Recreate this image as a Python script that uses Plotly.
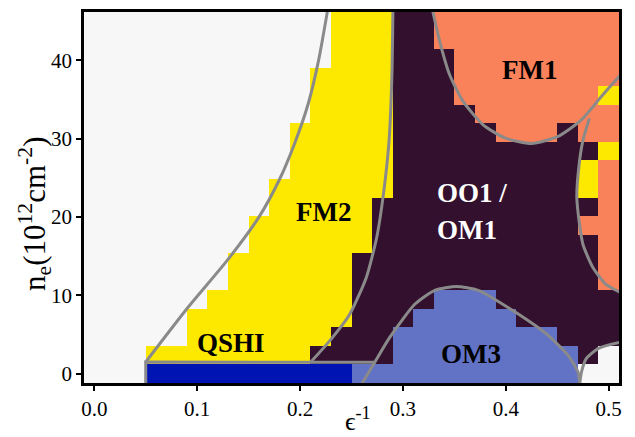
import numpy as np
import plotly.graph_objects as go

# grid axes: inverse dielectric constant and electron density (10^12 cm^-2)
eps_inv = [round(0.02 * k, 2) for k in range(26)]
n_e = list(np.linspace(0.0, 45.0, 20))

# phase codes per row (bottom row first), one character per eps_inv column
# W normal, Q QSHI, Y FM2, P OO1/OM1, S FM1, B OM3
phase_rows = [
    "WWWQQQQQQQQQQBBBBBBBBBBBWW",
    "WWWYYYYYYYYPPPPBBBBBBBBBPW",
    "WWWWWYYYYYYYPPPBBBBBBBBPPP",
    "WWWWWYYYYYYYYPPPBBBBBPPPPP",
    "WWWWWWYYYYYYYPPPPBBBPPPPPP",
    "WWWWWWWYYYYYYPPPPPPPPPPPPS",
    "WWWWWWWYYYYYYPPPPPPPPPPPPS",
    "WWWWWWWWYYYYYYPPPPPPPPPPPS",
    "WWWWWWWWYYYYYYPPPPPPPPPPSS",
    "WWWWWWWWWYYYYYPPPPPPPPPPPS",
    "WWWWWWWWWYYYYYYPPPPPPPPPYS",
    "WWWWWWWWWWYYYYYPPPPPPPPPYS",
    "WWWWWWWWWWYYYYYPPPPPPPPPPY",
    "WWWWWWWWWWYYYYYPPPPPSSSPSS",
    "WWWWWWWWWWWYYYYPPPPSSSSSSS",
    "WWWWWWWWWWWYYYYPPPSSSSSSSY",
    "WWWWWWWWWWWYYYYPPPSSSSSSSS",
    "WWWWWWWWWWWWYYYPPPSSSSSSSS",
    "WWWWWWWWWWWWYYYPPSSSSSSSSS",
    "WWWWWWWWWWWWYYYPPSSSSSSSSS",
]
phase_codes = "WQYPSB"
phase_colors = ["#f7f7f7", "#0014b4", "#fde800", "#33102e", "#f9825a", "#6272c5"]

# phase boundaries drawn on top of the grid
fm2_left_x = [0.050, 0.090, 0.130, 0.160, 0.180, 0.195, 0.208, 0.218, 0.2265, 0.230]
fm2_left_y = [1.5, 8.3, 14.6, 20.0, 24.8, 29.5, 34.5, 40.0, 46.2, 49.0]

qshi_x = [0.050, 0.050, 0.273]
qshi_y = [-1.3, 1.5, 1.45]

fm2_right_x = [0.2104, 0.2288, 0.2483, 0.2644, 0.2745, 0.281, 0.2865, 0.2893, 0.2903]
fm2_right_y = [1.5, 4.2, 7.6, 12.3, 17.4, 22.9, 29.7, 38.2, 47.0]

om3_x = [0.2599, 0.2728, 0.2870, 0.3117, 0.331, 0.3521, 0.3731, 0.4087, 0.4411, 0.4605, 0.4702, 0.4718]
om3_y = [-1.3, 1.5, 4.6, 8.9, 10.65, 11.15, 10.65, 7.9, 4.9, 2.35, 0.2, -1.3]

fm1_x = [0.3270, 0.3356, 0.3453, 0.3583, 0.3777, 0.399, 0.425, 0.4508, 0.4735, 0.4929, 0.5107, 0.520]
fm1_y = [47.5, 42.5, 38.2, 34.8, 31.8, 30.1, 29.4, 30.3, 32.4, 35.4, 38.0, 39.3]

right_x = [0.4812, 0.4748, 0.4709, 0.469, 0.4712, 0.475, 0.4845, 0.4974, 0.5119, 0.52]
right_y = [32.6, 29.7, 26.3, 22.6, 19.5, 16.5, 13.6, 11.4, 10.35, 10.1]

corner_x = [0.4718, 0.4735, 0.478, 0.4896, 0.5107, 0.52]
corner_y = [-1.3, 0.2, 1.9, 3.2, 4.0, 4.2]

z = [[phase_codes.index(ch) for ch in row] for row in phase_rows]

n = len(phase_colors)
colorscale = []
for k, c in enumerate(phase_colors):
    colorscale.append([k / n, c])
    colorscale.append([(k + 1) / n, c])

fig = go.Figure()
fig.add_trace(go.Heatmap(
    x=eps_inv, y=n_e, z=z, zmin=-0.5, zmax=n - 0.5,
    colorscale=colorscale, showscale=False, hoverinfo="skip",
))

boundary_line = dict(color="#8a8a8a", width=3)
curves = [
    (fm2_left_x, fm2_left_y, "spline"),
    (qshi_x, qshi_y, "linear"),
    (fm2_right_x, fm2_right_y, "spline"),
    (om3_x, om3_y, "spline"),
    (fm1_x, fm1_y, "spline"),
    (right_x, right_y, "spline"),
    (corner_x, corner_y, "spline"),
]
for bx, by, shape in curves:
    line = dict(**boundary_line, shape=shape)
    if shape == "spline":
        line["smoothing"] = 0.6
    fig.add_trace(go.Scatter(x=bx, y=by, mode="lines", line=line,
                             hoverinfo="skip", showlegend=False))

serif = "Liberation Serif, DejaVu Serif, serif"
labels = [
    ("FM1", 0.423, 38.8, "black"),
    ("FM2", 0.223, 20.6, "black"),
    ("QSHI", 0.133, 3.9, "black"),
    ("OO1 /", 0.367, 23.05, "white"),
    ("OM1", 0.3626, 18.33, "white"),
    ("OM3", 0.3658, 2.56, "black"),
]
for text, lx, ly, col in labels:
    fig.add_annotation(x=lx, y=ly, text=f"<b>{text}</b>", showarrow=False,
                       font=dict(family=serif, size=27, color=col))

# axis titles placed in paper coordinates
fig.add_annotation(x=0.512, y=-0.098, xref="paper", yref="paper", text="ϵ<sup>-1</sup>",
                   showarrow=False, xanchor="center", yanchor="middle",
                   font=dict(family=serif, size=26, color="black"))
fig.add_annotation(x=-0.092, y=0.455, xref="paper", yref="paper",
                   text="n<sub>e</sub>(10<sup>12</sup>cm<sup>-2</sup>)", textangle=-90,
                   showarrow=False, xanchor="center", yanchor="middle",
                   font=dict(family=serif, size=31, color="black"))

axis_common = dict(showline=True, linecolor="black", linewidth=2.5, mirror=True,
                   ticks="outside", ticklen=5, tickwidth=1.5, tickcolor="black",
                   showgrid=False, zeroline=False, automargin=False,
                   tickfont=dict(family=serif, size=21, color="black"))

fig.update_layout(
    width=635, height=437,
    margin=dict(l=84, r=16, t=12, b=54),
    paper_bgcolor="white", plot_bgcolor="#f7f7f7",
    showlegend=False,
    xaxis=dict(range=[-0.01, 0.51], tickvals=[0.0, 0.1, 0.2, 0.3, 0.4, 0.5],
               ticktext=["0.0", "0.1", "0.2", "0.3", "0.4", "0.5"], **axis_common),
    yaxis=dict(range=[-1.184, 46.184], tickvals=[0, 10, 20, 30, 40], **axis_common),
)

fig.write_html("out.html")
